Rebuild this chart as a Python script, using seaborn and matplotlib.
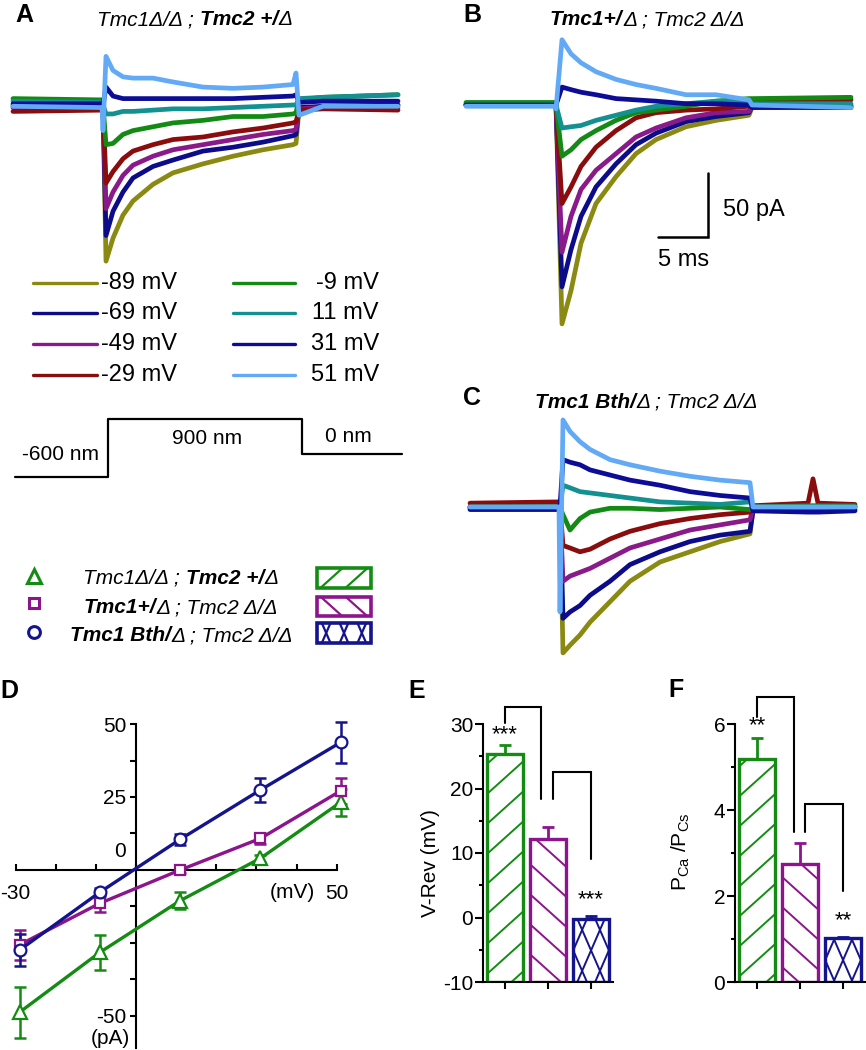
import numpy as np
import pandas as pd
import matplotlib
matplotlib.use("Agg")
import matplotlib.pyplot as plt
from matplotlib.lines import Line2D
from matplotlib.patches import Rectangle
from matplotlib.transforms import IdentityTransform
import seaborn as sns

# ---------------- data ----------------
VOLTS = [-89, -69, -49, -29, -9, 11, 31, 51]
VOLT_LABELS = ["-89 mV", "-69 mV", "-49 mV", "-29 mV", "-9 mV", "11 mV", "31 mV", "51 mV"]
VOLT_COLORS = ["#8a8a12", "#0c0c8a", "#8a1a8a", "#8a0c0c", "#138a13", "#139090", "#0c0c96", "#62aaf5"]

# Panel A traces (time in ms from step onset, current in pA)
TA = [-9, -0.1, 0, 0.3, 1, 2, 3, 5, 7, 10, 13, 16, 19.0, 19.3, 19.6, 22, 29.5]
A_TRACES = {
    -89: [0, 0, 0, -122, -104, -86, -75, -62, -53, -46, -40, -35, -31, -30, -3, -2, 0],
    -69: [-1, -1, 0, -102, -83, -68, -57, -48, -43, -36, -33, -29, -24, -23, -2, -1, 0],
    -49: [-2, -2, 0, -81, -68, -55, -47, -40, -35, -31, -27, -23, -20, -19, -3, -2, -2],
    -29: [-5, -4, 0, -61, -52, -42, -36, -31, -27, -25, -21, -18, -14, -13, -4, -3, -4],
    -9:  [5, 4, 0, -31, -30, -23, -20, -17, -14, -12, -9, -9, -7, -6, 4, 6, 8],
    11:  [3, 2, 0, -7, -7, -5, -5, -4, -3, -3, -2, -1, 0, 0, 5, 6, 8],
    31:  [1, 1, 0, 14, 7, 5, 5, 5, 5, 5, 5, 6, 7, 8, 2, 3, 3],
    51:  [-1, -2, -20, 38, 27, 22, 21, 21, 18, 14, 13, 14, 16, 25, -8, -1, -1],
}
# Panel B traces
TB = [-9, -0.1, 0, 0.6, 1.5, 2.5, 4, 6, 8, 10, 13, 16, 19.3, 19.6, 29.5]
B_TRACES = {
    -89: [0, 0, 0, -171, -145, -108, -77, -56, -38, -27, -17, -12, -8, -2, 0],
    -69: [0, 0, 0, -142, -113, -87, -64, -46, -31, -22, -13, -9, -6, -1, -1],
    -49: [0, 0, 0, -115, -87, -66, -51, -38, -25, -18, -10, -6, -5, -1, -1],
    -29: [1, 1, 0, -77, -64, -48, -33, -20, -10, -6, -4, -3, -1, 2, 4],
    -9:  [2, 2, 0, -40, -35, -27, -20, -12, -6, -4, -1, 3, 5, 5, 6],
    11:  [0, 0, 0, -18, -17, -16, -12, -8, -4, -1, 1, 3, 3, 1, 1],
    31:  [0, 0, 0, 14, 12, 10, 8, 5, 4, 3, 1, 1, 0, -2, -2],
    51:  [-1, -1, -3, 51, 40, 33, 26, 20, 16, 13, 8, 8, 4, 0, -2],
}
# Panel C traces
TC = [-9, -0.1, 0, 0.3, 1, 2, 3, 5, 7, 10, 13, 16, 19.0, 19.3, 24.8, 25.3, 25.8, 29.5]
C_TRACES = {
    -89: [0, 0, 0, -114, -108, -100, -90, -74, -58, -43, -35, -27, -21, -2, -1, -1, -1, 0],
    -69: [-1, -1, 0, -87, -82, -77, -69, -58, -45, -35, -27, -22, -19, -3, -2, -2, -2, -2],
    -49: [0, 0, 0, -58, -54, -51, -48, -40, -32, -25, -18, -14, -10, -1, 0, 0, 0, 0],
    -29: [3, 4, 0, -30, -32, -35, -33, -25, -19, -13, -9, -6, -4, 1, 3, 22, 3, 2],
    -9:  [0, 0, 0, -6, -18, -9, -4, -1, -1, -2, -1, 0, -2, 0, 1, 1, 1, 1],
    11:  [0, 0, 0, 17, 15, 12, 11, 9, 7, 4, 3, 2, 4, 0, 0, 0, 0, 0],
    31:  [-2, -2, 0, 37, 35, 33, 29, 25, 21, 17, 12, 9, 7, -3, -4, -4, -4, -3],
    51:  [0, 0, -82, 68, 59, 51, 45, 37, 33, 28, 24, 21, 19, 0, 0, 0, 0, 0],
}
# mechanical stimulus (ms, nm)
STIM_T = [-9.3, 0, 0, 19.4, 19.4, 29.4]
STIM_NM = [-600, -600, 900, 900, 0, 0]

GROUP_COLORS = ["#148c14", "#8c148c", "#14148c"]
GROUP_KEYS = ["Tmc2", "Tmc1", "Bth"]

# Panel D: I-V relation
IV_V = [-29, -9, 11, 31, 51]
IV_TMC2 = [-48.7, -28.2, -10.5, 4.0, 23.2]
IV_TMC2_SEM = [8.8, 6.1, 3.0, 1.2, 4.6]
IV_TMC1 = [-25.6, -11.4, 0.0, 10.8, 27.1]
IV_TMC1_SEM = [5.1, 3.1, 1.0, 2.0, 4.5]
IV_BTH = [-27.4, -7.6, 10.5, 27.4, 43.7]
IV_BTH_SEM = [5.4, 1.4, 1.9, 4.1, 7.1]

# Panel E / F
VREV = [25.4, 12.2, -0.2]
VREV_SEM = [1.3, 1.8, 0.4]
PCA = [5.19, 2.74, 1.02]
PCA_SEM = [0.48, 0.49, 0.03]

# ---------------- style ----------------
W, H = 866, 1050
sns.set_theme(style="ticks")
plt.rcParams["font.family"] = ["Liberation Sans", "DejaVu Sans"]
plt.rcParams["mathtext.default"] = "regular"
plt.rcParams["axes.unicode_minus"] = False
plt.rcParams["axes.facecolor"] = "none"
plt.rcParams["figure.facecolor"] = "white"
for k in ["text.color", "axes.labelcolor", "xtick.color", "ytick.color", "axes.edgecolor"]:
    plt.rcParams[k] = "black"

fig = plt.figure(figsize=(W / 100, H / 100), dpi=100)
R = fig.canvas.get_renderer()


def px_axes(x0, y0, x1, y1):
    return fig.add_axes([x0 / W, 1 - y1 / H, (x1 - x0) / W, (y1 - y0) / H])


PX_MS, PX_PA = 10.0, 1.28


def trace_axes(onset_px, base_py, xlim, ylim):
    ax = px_axes(onset_px + PX_MS * xlim[0], base_py - PX_PA * ylim[1],
                 onset_px + PX_MS * xlim[1], base_py - PX_PA * ylim[0])
    return ax


def draw_traces(ax, times, traces, xlim, ylim):
    rows = []
    for v, lab in zip(VOLTS, VOLT_LABELS):
        for t, i in zip(times, traces[v]):
            rows.append((t, i, lab))
    df = pd.DataFrame(rows, columns=["t", "I", "V"])
    sns.lineplot(data=df, x="t", y="I", hue="V", hue_order=VOLT_LABELS,
                 palette=dict(zip(VOLT_LABELS, VOLT_COLORS)), estimator=None,
                 sort=False, linewidth=3.4, legend=False, ax=ax,
                 solid_joinstyle="round", solid_capstyle="round")
    ax.set_xlim(xlim)
    ax.set_ylim(ylim)
    ax.axis("off")


XL = (-9.6, 31.0)
axA = trace_axes(103, 105, XL, (-135, 48))
draw_traces(axA, TA, A_TRACES, XL, (-135, 48))
axB = trace_axes(556, 105, XL, (-185, 62))
draw_traces(axB, TB, B_TRACES, XL, (-185, 62))
axC = trace_axes(560, 507, XL, (-125, 75))
draw_traces(axC, TC, C_TRACES, XL, (-125, 75))

# scale bar in panel B (5 ms, 50 pA)
axB.plot([10.2, 15.2, 15.2], [-103, -103, -53], color="black", lw=1.8,
         solid_joinstyle="miter", clip_on=False)
axB.text(16.7, -82, "50 pA", fontsize=17, ha="left", va="center")
axB.text(10.2, -121, "5 ms", fontsize=17, ha="left", va="center")

# stimulus
axS = px_axes(0, 399.8, 433, 500.4)
sns.lineplot(x=STIM_T, y=STIM_NM, sort=False, estimator=None, color="black",
             linewidth=1.6, ax=axS)
axS.set_xlim(-10.8, 32.5)
axS.set_ylim(-1200, 1400)
axS.axis("off")

# ---------------- Panel D ----------------
# mapping: px = 136 + 4.0125*mV ; py = 870 - 2.92*pA
def d_px(mv):
    return 136 + 4.0125 * mv


def d_py(pa):
    return 870 - 2.92 * pa


DXL, DYL = (-34, 54), (-61, 53)
axD = px_axes(d_px(DXL[0]), d_py(DYL[1]), d_px(DXL[1]), d_py(DYL[0]))
for vals, err, col, mk, ms in [(IV_TMC2, IV_TMC2_SEM, GROUP_COLORS[0], "^", 10),
                               (IV_TMC1, IV_TMC1_SEM, GROUP_COLORS[1], "s", 7.5),
                               (IV_BTH, IV_BTH_SEM, GROUP_COLORS[2], "o", 8.5)]:
    axD.errorbar(IV_V, vals, yerr=err, fmt="none", ecolor=col, elinewidth=1.8,
                 capsize=4, capthick=1.8, zorder=2)
    sns.lineplot(x=IV_V, y=vals, color=col, marker=mk, markersize=ms,
                 markerfacecolor="white", markeredgecolor=col, markeredgewidth=1.6,
                 linewidth=2.4, ax=axD, zorder=3)
axD.set_xlim(DXL)
axD.set_ylim(DYL)
axD.spines["left"].set_position(("data", 0))
axD.spines["bottom"].set_position(("data", 0))
axD.spines["top"].set_visible(False)
axD.spines["right"].set_visible(False)
axD.spines["left"].set_bounds(-61, 50)
axD.spines["bottom"].set_bounds(-30, 50)
for s in ["left", "bottom"]:
    axD.spines[s].set_linewidth(1.5)
axD.set_xticks([-30, -20, -10, 0, 10, 20, 30, 40, 50])
axD.set_xticklabels(["-30", "", "", "", "", "", "", "", "50"])
axD.set_yticks([-50, -37.5, -25, -12.5, 12.5, 25, 37.5, 50])
axD.set_yticklabels(["-50", "", "", "", "", "25", "", "50"])
axD.tick_params(axis="x", direction="in", length=4, width=1.5, labelsize=15, pad=10)
axD.tick_params(axis="y", direction="out", length=4, width=1.5, labelsize=15, pad=3)
axD.set_xlabel("")
axD.set_ylabel("")
axD.text(-2.6, 6.2, "0", fontsize=15, ha="right", va="center")
axD.text(-1.4, -57.6, "(pA)", fontsize=15, ha="right", va="center")
axD.text(44.6, -7.6, "(mV)", fontsize=15, ha="right", va="center")

# ---------------- Panels E, F ----------------
def bar_panel(rect, vals, sems, base, ylim, major, minor, top):
    ax = px_axes(*rect)
    df = pd.DataFrame({"g": GROUP_KEYS, "v": vals})
    sns.barplot(data=df, x="g", y="v", hue="g", palette=GROUP_COLORS, fill=False,
                width=0.84, linewidth=2.4, legend=False, errorbar=None, ax=ax)
    patches = sorted(ax.patches, key=lambda p: p.get_x())
    for p, v, c in zip(patches, vals, GROUP_COLORS):
        p.set_y(base)
        p.set_height(v - base)
        p.set_facecolor("white")
        p.set_edgecolor(c)
        p.set_linewidth(2.4)
        p.set_zorder(2)
    for i, (v, e, c) in enumerate(zip(vals, sems, GROUP_COLORS)):
        ax.errorbar([i], [v], yerr=[[0], [e]], fmt="none", ecolor=c, elinewidth=2.0,
                    capsize=4.5, capthick=2.0, zorder=1)
    ax.set_xlim(-0.51, 2.51)
    ax.set_ylim(ylim)
    ax.spines["top"].set_visible(False)
    ax.spines["right"].set_visible(False)
    ax.spines["left"].set_bounds(base, top)
    for s in ["left", "bottom"]:
        ax.spines[s].set_linewidth(1.5)
    ax.set_xticks([0, 1, 2])
    ax.set_xticklabels(["", "", ""])
    ax.set_yticks(major)
    ax.set_yticks(minor, minor=True)
    ax.tick_params(axis="y", which="major", direction="out", length=6, width=1.5,
                   labelsize=15, pad=1)
    ax.tick_params(axis="y", which="minor", direction="out", length=3, width=1.5)
    ax.tick_params(axis="x", direction="out", length=5, width=1.5)
    ax.set_xlabel("")
    ax.set_ylabel("")
    return ax, patches


axE, barsE = bar_panel((483, 982 - 44 * 6.45, 613, 982), VREV, VREV_SEM, -10, (-10, 34),
                       [-10, 0, 10, 20, 30], [-5, 5, 15, 25], 30)
axF, barsF = bar_panel((735, 982 - 6.75 * 43, 865, 982), PCA, PCA_SEM, 0, (0, 6.75),
                       [0, 2, 4, 6], [1, 3, 5], 6)

for ax, br in [(axE, [([0, 0, 0.84, 0.84], [30.2, 32.7, 32.7, 18.3]),
                      ([1.12, 1.12, 2.0, 2.0], [18.3, 22.5, 22.5, 9.0])]),
               (axF, [([0, 0, 0.86, 0.86], [6.16, 6.63, 6.63, 3.49]),
                      ([1.12, 1.12, 2.0, 2.0], [3.49, 4.14, 4.14, 2.12])])]:
    for xs, ys in br:
        ax.plot(xs, ys, color="black", lw=1.5, clip_on=False, solid_joinstyle="miter")
axE.text(0, 28.3, "***", fontsize=16, ha="center", va="center")
axE.text(2, 2.7, "***", fontsize=16, ha="center", va="center")
axF.text(0, 5.95, "**", fontsize=16, ha="center", va="center")
axF.text(2, 1.42, "**", fontsize=16, ha="center", va="center")

# ---------------- overlay (text, legends) ----------------
ov = fig.add_axes([0, 0, 1, 1], zorder=10)
ov.set_xlim(0, W)
ov.set_ylim(H, 0)
ov.axis("off")


def rich(x, y, pieces, size, ha="left"):
    arts, widths, gaps = [], [], []
    for s, bold, gap in pieces:
        t = ov.text(0, y, s, fontsize=size, fontstyle="italic",
                    fontweight="bold" if bold else "normal", va="baseline", ha="left")
        arts.append(t)
        widths.append(t.get_window_extent(R).width)
        gaps.append(gap * size * 100 / 72)
    total = sum(widths) + sum(gaps)
    cur = x - total / 2 if ha == "center" else x
    for t, w, g in zip(arts, widths, gaps):
        cur += g
        t.set_x(cur)
        cur += w


G1 = [("Tmc1Δ/Δ ;", False, 0), ("Tmc2 +/", True, 0.28), ("Δ", False, 0.03)]
G2 = [("Tmc1+/", True, 0), ("Δ ; Tmc2 Δ/Δ", False, 0.03)]
G3 = [("Tmc1 Bth/", True, 0), ("Δ ; Tmc2 Δ/Δ", False, 0.03)]
GS = 15
rich(97, 25, G1, GS)
rich(550, 25, G2, GS)
rich(535, 408, G3, GS)
for pieces, yb in [(G1, 584), (G2, 613), (G3, 641)]:
    rich(181, yb, pieces, GS, ha="center")

# panel letters
for lab, x, y in [("A", 15, 22), ("B", 463, 22), ("C", 463, 405),
                  ("D", 0, 698), ("E", 408, 698), ("F", 668, 697)]:
    ov.text(x, y, lab, fontsize=18, fontweight="bold", ha="left", va="baseline")

# voltage legend
rows_y = [283, 313, 344, 375]
for i, (lab, col) in enumerate(zip(VOLT_LABELS, VOLT_COLORS)):
    y = rows_y[i % 4]
    if i < 4:
        ov.plot([33, 97], [y, y], color=col, lw=2.4, solid_capstyle="round")
        ov.text(101, y, lab, fontsize=17, ha="left", va="center")
    else:
        ov.plot([233, 295], [y, y], color=col, lw=2.4, solid_capstyle="round")
        ov.text(379, y, lab, fontsize=17, ha="right", va="center")

# stimulus labels
ov.text(60, 454, "-600 nm", fontsize=15, ha="center", va="center")
ov.text(207, 438, "900 nm", fontsize=15, ha="center", va="center")
ov.text(348, 437, "0 nm", fontsize=15, ha="center", va="center")

# group legend markers and hatch swatches
legend_patches = []
for (mk, ms), yc, (ry0, ry1), col in zip([("^", 10), ("s", 7), ("o", 8.5)],
                                         [576, 603, 632],
                                         [(568, 588), (597, 616), (623, 643)],
                                         GROUP_COLORS):
    ov.plot([34], [yc], marker=mk, markersize=ms, markerfacecolor="white",
            markeredgecolor=col, markeredgewidth=2.2, linestyle="none")
    rp = Rectangle((317, ry0), 54, ry1 - ry0, facecolor="white", edgecolor=col, lw=2.6)
    ov.add_patch(rp)
    legend_patches.append(rp)

# axis labels
ov.text(431, 863, "V-Rev (mV)", fontsize=15, rotation=90, ha="center", va="center")
ov.text(681, 852, "P$_{Ca}$ /P$_{Cs}$", fontsize=15, rotation=90, ha="center", va="center")

# ---------------- manual sparse hatching ----------------
fig.canvas.draw()
HATCH = {"/": [(0.9, 30)], "\\": [(-0.9, 30)], "x": [(2.3, 41), (-2.3, 41)]}
KINDS = ["/", "\\", "x"]


def add_hatch(host, patch, kind, color, lw=1.4, scale=1.0, phase=0.0):
    bb = patch.get_window_extent(R)
    x0, y0, x1, y1 = bb.x0, bb.y0, bb.x1, bb.y1
    xc, yc = (x0 + x1) / 2, (y0 + y1) / 2
    for m, sp in HATCH[kind]:
        sp = sp * scale
        c0 = yc - m * xc + phase * sp
        cs = [y0 - m * x0, y0 - m * x1, y1 - m * x0, y1 - m * x1]
        kmin = int(np.floor((min(cs) - c0) / sp)) - 1
        kmax = int(np.ceil((max(cs) - c0) / sp)) + 1
        for k in range(kmin, kmax + 1):
            c = c0 + k * sp
            xs = [x0 - 3, x1 + 3]
            ys = [m * xs[0] + c, m * xs[1] + c]
            ln = Line2D(xs, ys, transform=IdentityTransform(), color=color, lw=lw,
                        zorder=patch.get_zorder() + 0.1)
            host.add_artist(ln)
            ln.set_clip_path(patch)
            ln.set_clip_on(True)


for ax, bars in [(axE, barsE), (axF, barsF)]:
    for p, kind, col in zip(bars, KINDS, GROUP_COLORS):
        add_hatch(ax, p, kind, col)
for p, kind, col in zip(legend_patches, KINDS, GROUP_COLORS):
    if kind == "x":
        add_hatch(ov, p, kind, col, lw=1.6)
    else:
        add_hatch(ov, p, kind, col, lw=1.6, scale=0.75, phase=0.5)

fig.savefig("out.png", dpi=100)
